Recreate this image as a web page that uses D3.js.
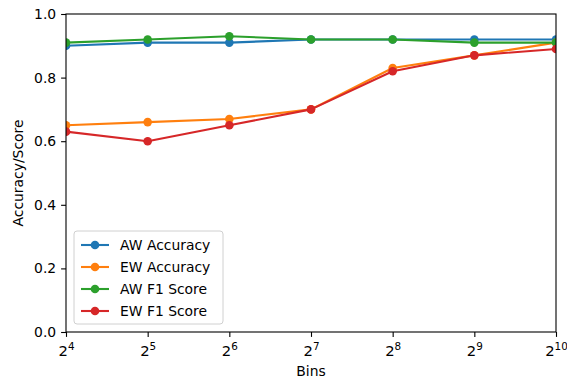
<!DOCTYPE html>
<html>
<head>
<meta charset="utf-8">
<script src="https://cdn.jsdelivr.net/npm/d3@7"></script>
<style>
  html, body { margin: 0; padding: 0; background: #fff; }
  svg { display: block; }
  text { font-family: "DejaVu Sans", sans-serif; fill: #000; }
</style>
</head>
<body>
<svg id="chart" width="567" height="386"></svg>
<script>
// Bin counts (powers of two) and the scores measured for each
const binExponents = [4, 5, 6, 7, 8, 9, 10];
const awAccuracy = [0.90, 0.91, 0.91, 0.92, 0.92, 0.92, 0.92];
const ewAccuracy = [0.65, 0.66, 0.67, 0.70, 0.83, 0.87, 0.91];
const awF1 = [0.91, 0.92, 0.93, 0.92, 0.92, 0.91, 0.91];
const ewF1 = [0.63, 0.60, 0.65, 0.70, 0.82, 0.87, 0.89];
const seriesNames = ["AW Accuracy", "EW Accuracy", "AW F1 Score", "EW F1 Score"];
const seriesColors = ["#1f77b4", "#ff7f0e", "#2ca02c", "#d62728"];
const yTicks = [0.0, 0.2, 0.4, 0.6, 0.8, 1.0];

const series = [awAccuracy, ewAccuracy, awF1, ewF1].map((vals, i) => ({
  name: seriesNames[i],
  color: seriesColors[i],
  points: binExponents.map((e, j) => ({ bins: Math.pow(2, e), value: vals[j] }))
}));

const margin = { left: 66, right: 11, top: 14, bottom: 54 };
const W = 567, H = 386;
const svg = d3.select("#chart");

const x = d3.scaleLog().base(2)
  .domain([Math.pow(2, binExponents[0]), Math.pow(2, binExponents[binExponents.length - 1])])
  .range([margin.left, W - margin.right]);
const y = d3.scaleLinear().domain([0, 1]).range([H - margin.bottom, margin.top]);

const fontSize = 13.9;

// Plot area clip
svg.append("defs").append("clipPath").attr("id", "plotClip")
  .append("rect")
  .attr("x", x.range()[0]).attr("y", y.range()[1])
  .attr("width", x.range()[1] - x.range()[0])
  .attr("height", y.range()[0] - y.range()[1]);

const plot = svg.append("g").attr("clip-path", "url(#plotClip)");

const line = d3.line().x(d => x(d.bins)).y(d => y(d.value));

series.forEach(s => {
  const g = plot.append("g");
  g.append("path")
    .attr("d", line(s.points))
    .attr("fill", "none")
    .attr("stroke", s.color)
    .attr("stroke-width", 2.1)
    .attr("stroke-linejoin", "round");
  g.selectAll("circle").data(s.points).join("circle")
    .attr("cx", d => x(d.bins))
    .attr("cy", d => y(d.value))
    .attr("r", 4.3)
    .attr("fill", s.color);
});

// Axes
const xAxis = d3.axisBottom(x)
  .tickValues(binExponents.map(e => Math.pow(2, e)))
  .tickSize(4.9).tickPadding(4)
  .tickFormat(() => "");
const gx = svg.append("g")
  .attr("transform", `translate(0,${H - margin.bottom})`)
  .call(xAxis);
gx.select(".domain").remove();
gx.selectAll(".tick line").attr("stroke", "#000").attr("stroke-width", 1.1);

// Power-of-two tick labels with superscript exponents
gx.selectAll(".tick").each(function(d) {
  const exp = Math.round(Math.log2(d));
  const t = d3.select(this).select("text")
    .attr("y", 24)
    .attr("dy", 0)
    .attr("font-size", 14.8)
    .attr("font-family", "DejaVu Sans")
    .attr("text-anchor", "middle");
  t.text(null);
  t.append("tspan").text("2");
  t.append("tspan").attr("font-size", 10.4).attr("dy", -6).text(exp);
});

const yAxis = d3.axisLeft(y)
  .tickValues(yTicks)
  .tickSize(4.9).tickPadding(4.9)
  .tickFormat(d3.format(".1f"));
const gy = svg.append("g")
  .attr("transform", `translate(${margin.left},0)`)
  .call(yAxis);
gy.select(".domain").remove();
gy.selectAll(".tick line").attr("stroke", "#000").attr("stroke-width", 1.1);
gy.selectAll(".tick text").attr("font-size", fontSize).attr("font-family", "DejaVu Sans");

// Frame
svg.append("rect")
  .attr("x", x.range()[0]).attr("y", y.range()[1])
  .attr("width", x.range()[1] - x.range()[0])
  .attr("height", y.range()[0] - y.range()[1])
  .attr("fill", "none").attr("stroke", "#000").attr("stroke-width", 1.1);

// Axis titles
svg.append("text")
  .attr("x", (x.range()[0] + x.range()[1]) / 2)
  .attr("y", 376)
  .attr("text-anchor", "middle")
  .attr("font-size", fontSize)
  .text("Bins");
svg.append("text")
  .attr("transform", `translate(23,${(y.range()[0] + y.range()[1]) / 2}) rotate(-90)`)
  .attr("text-anchor", "middle")
  .attr("font-size", fontSize)
  .text("Accuracy/Score");

// Legend
const legend = svg.append("g").attr("transform", "translate(74,231)");
legend.append("rect")
  .attr("x", 0).attr("y", 0).attr("width", 149).attr("height", 93)
  .attr("rx", 3)
  .attr("fill", "#fff").attr("fill-opacity", 0.8)
  .attr("stroke", "#d0d0d0").attr("stroke-width", 1);
series.forEach((s, i) => {
  const yy = 14 + i * 22;
  const row = legend.append("g").attr("transform", `translate(0,${yy})`);
  row.append("line").attr("x1", 7).attr("x2", 35).attr("y1", 0).attr("y2", 0)
    .attr("stroke", s.color).attr("stroke-width", 2.1);
  row.append("circle").attr("cx", 21).attr("cy", 0).attr("r", 4.3).attr("fill", s.color);
  row.append("text").attr("x", 46).attr("y", 0).attr("dy", "0.36em")
    .attr("font-size", fontSize).text(s.name);
});
</script>
</body>
</html>
